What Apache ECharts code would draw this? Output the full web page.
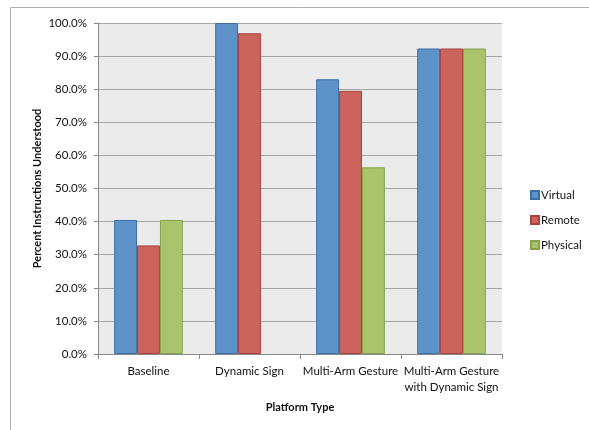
<!DOCTYPE html>
<html><head><meta charset="utf-8">
<script src="https://cdn.jsdelivr.net/npm/echarts@6/dist/echarts.min.js"></script>
<style>html,body{margin:0;padding:0;background:#fff}#c{width:589px;height:430px}</style>
</head><body><div id="c"></div>
<script>
const categories = ['Baseline', 'Dynamic Sign', 'Multi-Arm Gesture', 'Multi-Arm Gesture\nwith Dynamic Sign'];
const virtualVals = [40.5, 100.0, 83.0, 92.3];
const remoteVals = [32.8, 96.9, 79.5, 92.3];
const physicalVals = [40.5, null, 56.4, 92.3];
const yTicks = [0, 10, 20, 30, 40, 50, 60, 70, 80, 90, 100];

const FONT = 'Lato';
const chart = echarts.init(document.getElementById('c'));
function bar(name, data, color, border) {
  return {
    name, type: 'bar', data, barGap: '0%', barCategoryGap: '32%',
    itemStyle: { color, borderColor: border, borderWidth: 1 }
  };
}
chart.setOption({
  animation: false,
  backgroundColor: '#fff',
  textStyle: { fontFamily: FONT },
  graphic: [{
    type: 'rect', shape: { x: 10.5, y: 7.5, width: 700, height: 600 },
    style: { fill: 'none', stroke: '#b0b0b0', lineWidth: 1 }, z: -10
  }],
  grid: { left: 98, top: 23, width: 404, height: 331, backgroundColor: '#ebebeb', show: true, borderWidth: 0 },
  legend: {
    orient: 'vertical', left: 525, top: 184, itemWidth: 8, itemHeight: 8, itemGap: 13,
    icon: 'rect',
    textStyle: { fontFamily: FONT, fontSize: 11.5, color: '#111', padding: [0, 0, 0, -3] },
    data: ['Virtual', 'Remote', 'Physical']
  },
  xAxis: {
    type: 'category', data: categories,
    name: 'Platform Type', nameLocation: 'middle', nameGap: 48,
    nameTextStyle: { fontFamily: FONT, fontWeight: 'bold', fontSize: 11, color: '#111' },
    axisLine: { lineStyle: { color: '#888' } },
    axisTick: { show: true, alignWithLabel: false, length: 5, lineStyle: { color: '#888' } },
    axisLabel: { fontFamily: FONT, fontSize: 11.5, color: '#111', margin: 9, lineHeight: 16, interval: 0, align: 'center' }
  },
  yAxis: {
    type: 'value', min: 0, max: 100, interval: 10,
    name: 'Percent Instructions Understood', nameLocation: 'middle', nameGap: 55, nameMoveOverlap: false,
    nameTextStyle: { fontFamily: FONT, fontWeight: 'bold', fontSize: 11, color: '#111' },
    axisLine: { show: true, lineStyle: { color: '#888' } },
    axisTick: { show: true, length: 4, lineStyle: { color: '#888' } },
    splitLine: { lineStyle: { color: '#a6a6a6', width: 1 } },
    axisLabel: { fontFamily: FONT, fontSize: 11.5, color: '#111', margin: 11,
      formatter: v => yTicks.includes(v) ? v.toFixed(1) + '%' : '' }
  },
  series: [
    bar('Virtual', virtualVals, '#5e93c9', '#3d6ea5'),
    bar('Remote', remoteVals, '#cc635c', '#a8423e'),
    bar('Physical', physicalVals, '#a9c46a', '#87a24a')
  ]
});
</script></body></html>
